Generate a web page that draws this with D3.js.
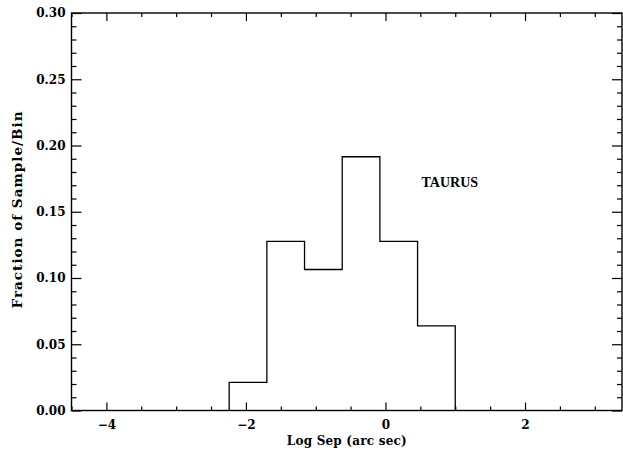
<!DOCTYPE html>
<html>
<head>
<meta charset="utf-8">
<script src="https://cdn.jsdelivr.net/npm/d3@7"></script>
<style>
  body { margin: 0; background: #fff; }
  svg { display: block; }
  .tick text { font-family: 'DejaVu Serif', serif; font-weight: bold; font-size: 12px; fill: #000; }
  .tick line { stroke: #000; stroke-width: 1.2; }
  .title { font-family: 'DejaVu Serif', serif; font-weight: bold; font-size: 12px; fill: #000; }
</style>
</head>
<body>
<div id="chart"></div>
<script>
// histogram of binary separations, Taurus
const binEdges = [-2.24, -1.70, -1.16, -0.62, -0.08, 0.46, 1.00];
const fractions = [0.0213, 0.1277, 0.1064, 0.1915, 0.1277, 0.0638];

const xMajorTicks = [-4, -2, 0, 2];
const xMinorTicks = [-4.5, -3.5, -3, -2.5, -1.5, -1, -0.5, 0.5, 1, 1.5, 2.5, 3];
const yMajorTicks = [0, 0.05, 0.10, 0.15, 0.20, 0.25, 0.30];
const yMinorTicks = d3.range(0, 31).filter(d => d % 5 !== 0).map(d => d / 100);

const width = 623;
const height = 450;
const margin = { top: 13, right: 1, bottom: 39.5, left: 71.5 };

const svg = d3
  .select('#chart')
  .append('svg')
  .attr('width', width)
  .attr('height', height);

const x = d3
  .scaleLinear()
  .domain([-4.5, 3.39])
  .range([margin.left, width - margin.right]);

const y = d3
  .scaleLinear()
  .domain([0, 0.3])
  .range([height - margin.bottom, margin.top]);

const x0 = x.range()[0], x1 = x.range()[1];
const y0 = y.range()[0], y1 = y.range()[1];

// AXES
const addAxis = (axis, transform) => {
  const g = svg.append('g').attr('transform', transform).call(axis);
  g.select('.domain').remove();
  return g;
};

addAxis(
  d3.axisBottom(x).tickValues(xMajorTicks).tickSizeInner(-8).tickSizeOuter(0)
    .tickPadding(10).tickFormat(d => (d < 0 ? '\u2212' + Math.abs(d) : d)),
  `translate(0,${y0})`
);
addAxis(
  d3.axisBottom(x).tickValues(xMinorTicks).tickSizeInner(-4).tickSizeOuter(0).tickFormat(''),
  `translate(0,${y0})`
);
addAxis(
  d3.axisTop(x).tickValues(xMajorTicks).tickSizeInner(-8).tickSizeOuter(0).tickFormat(''),
  `translate(0,${y1})`
);
addAxis(
  d3.axisTop(x).tickValues(xMinorTicks).tickSizeInner(-4).tickSizeOuter(0).tickFormat(''),
  `translate(0,${y1})`
);

addAxis(
  d3.axisLeft(y).tickValues(yMajorTicks).tickSizeInner(-10).tickSizeOuter(0)
    .tickPadding(6).tickFormat(d3.format('.2f')),
  `translate(${x0},0)`
);
addAxis(
  d3.axisLeft(y).tickValues(yMinorTicks).tickSizeInner(-5).tickSizeOuter(0).tickFormat(''),
  `translate(${x0},0)`
);
addAxis(
  d3.axisRight(y).tickValues(yMajorTicks).tickSizeInner(-10).tickSizeOuter(0).tickFormat(''),
  `translate(${x1},0)`
);
addAxis(
  d3.axisRight(y).tickValues(yMinorTicks).tickSizeInner(-5).tickSizeOuter(0).tickFormat(''),
  `translate(${x1},0)`
);

// frame
svg
  .append('rect')
  .attr('x', x0)
  .attr('y', y1)
  .attr('width', x1 - x0)
  .attr('height', y0 - y1)
  .attr('fill', 'none')
  .attr('stroke', '#000')
  .attr('stroke-width', 1.4);

// HISTOGRAM
const pts = [[binEdges[0], 0]];
fractions.forEach((f, i) => {
  pts.push([binEdges[i], f]);
  pts.push([binEdges[i + 1], f]);
});
pts.push([binEdges[binEdges.length - 1], 0]);

const line = d3
  .line()
  .x(d => x(d[0]))
  .y(d => y(d[1]));

svg
  .append('path')
  .attr('d', line(pts))
  .attr('fill', 'none')
  .attr('stroke', '#000')
  .attr('stroke-width', 1.3);

// LABELS
svg
  .append('text')
  .attr('class', 'title')
  .attr('x', (x0 + x1) / 2)
  .attr('y', 445)
  .attr('text-anchor', 'middle')
  .attr('textLength', 120)
  .text('Log Sep (arc sec)');

svg
  .append('text')
  .attr('class', 'title')
  .attr('transform', `translate(22, 210) rotate(-90)`)
  .attr('text-anchor', 'middle')
  .attr('textLength', 197)
  .style('font-size', '13.5px')
  .text('Fraction of Sample/Bin');

svg
  .append('text')
  .attr('class', 'title')
  .attr('x', 421.5)
  .attr('y', 186.5)
  .style('font-family', "'Liberation Serif', serif")
  .style('font-size', '14px')
  .text('TAURUS');
</script>
</body>
</html>
